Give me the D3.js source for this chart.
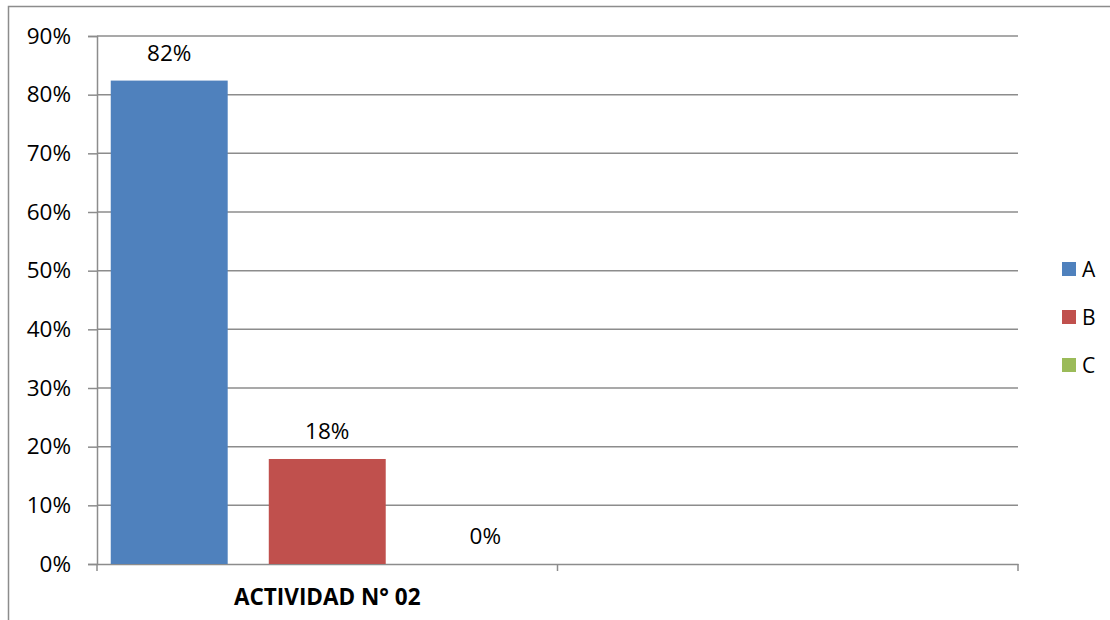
<!DOCTYPE html>
<html>
<head>
<meta charset="utf-8">
<script src="https://cdn.jsdelivr.net/npm/d3@7"></script>
<style>
  body { margin: 0; background: #fff; }
  svg { display: block; font-family: "Open Sans", "Noto Sans", sans-serif; }
</style>
</head>
<body>
<div id="chart"></div>
<script>
// Data.
const categories = ["ACTIVIDAD N° 02", ""];
const seriesNames = ["A", "B", "C"];
const seriesValues = [0.824, 0.179, 0];
const valueLabels = ["82%", "18%", "0%"];
const yTicks = [0, 0.1, 0.2, 0.3, 0.4, 0.5, 0.6, 0.7, 0.8, 0.9];
const colors = ["#4F81BD", "#C0504D", "#9BBB59"];

const width = 1110;
const height = 620;
const marginTop = 36;
const marginRight = 92;
const marginBottom = 56;
const marginLeft = 97;

const svg = d3.select("#chart")
  .append("svg")
    .attr("width", width)
    .attr("height", height)
    .attr("viewBox", [0, 0, width, height]);

// Outer chart frame (runs off the right and bottom edges).
svg.append("rect")
    .attr("x", 8.5)
    .attr("y", 6.5)
    .attr("width", width + 20)
    .attr("height", height + 20)
    .attr("fill", "none")
    .attr("stroke", "#8c8c8c")
    .attr("stroke-width", 1.5);

const x = d3.scaleBand()
    .domain(categories)
    .range([marginLeft, width - marginRight]);

const xInner = d3.scaleBand()
    .domain(seriesNames)
    .range([0, x.bandwidth()])
    .paddingInner(0.26)
    .paddingOuter(0.087);

const y = d3.scaleLinear()
    .domain([0, 0.9])
    .range([height - marginBottom, marginTop]);

// Gridlines.
svg.append("g")
  .selectAll("line")
  .data(yTicks.filter(d => d > 0))
  .join("line")
    .attr("x1", marginLeft)
    .attr("x2", width - marginRight)
    .attr("y1", d => y(d))
    .attr("y2", d => y(d))
    .attr("stroke", "#8c8c8c")
    .attr("stroke-width", 1.5);

// Y axis.
const yAxis = svg.append("g")
    .attr("transform", `translate(${marginLeft},0)`)
    .call(d3.axisLeft(y)
      .tickValues(yTicks)
      .tickFormat(d3.format(".0%"))
      .tickSize(9)
      .tickPadding(17));

yAxis.attr("font-family", null).attr("font-size", null);
yAxis.select(".domain").attr("stroke", "#8c8c8c").attr("stroke-width", 1.5);
yAxis.selectAll(".tick line").attr("stroke", "#8c8c8c").attr("stroke-width", 1.5);
yAxis.selectAll(".tick text")
    .attr("fill", "#000")
    .style("font-size", "22.5px");

// X axis.
const xAxis = svg.append("g")
    .attr("transform", `translate(0,${y(0)})`)
    .call(d3.axisBottom(x).tickSize(0).tickFormat(""));

xAxis.attr("font-family", null).attr("font-size", null);
xAxis.select(".domain").attr("stroke", "#8c8c8c").attr("stroke-width", 1.5);

const boundaries = [...categories.map(c => x(c)), x(categories[categories.length - 1]) + x.bandwidth()];
xAxis.selectAll(".bound")
  .data(boundaries)
  .join("line")
    .attr("class", "bound")
    .attr("x1", d => d)
    .attr("x2", d => d)
    .attr("y1", 0)
    .attr("y2", 7)
    .attr("stroke", "#8c8c8c")
    .attr("stroke-width", 1.5);

xAxis.selectAll(".cat")
  .data(categories)
  .join("text")
    .attr("class", "cat")
    .attr("x", d => x(d) + x.bandwidth() / 2)
    .attr("y", 41)
    .attr("text-anchor", "middle")
    .attr("fill", "#000")
    .style("font-size", "22.5px")
    .style("font-weight", "bold")
    .text(d => d);

// Bars for the first category.
const group = svg.append("g")
    .attr("transform", `translate(${x(categories[0])},0)`);

group.selectAll("rect")
  .data(seriesValues)
  .join("rect")
    .attr("x", (d, i) => xInner(seriesNames[i]))
    .attr("y", d => y(d))
    .attr("width", xInner.bandwidth())
    .attr("height", d => y(0) - y(d))
    .attr("fill", (d, i) => colors[i]);

group.selectAll("text")
  .data(seriesValues)
  .join("text")
    .attr("x", (d, i) => xInner(seriesNames[i]) + xInner.bandwidth() / 2)
    .attr("y", d => y(d) - 20)
    .attr("text-anchor", "middle")
    .attr("fill", "#000")
    .style("font-size", "22.5px")
    .text((d, i) => valueLabels[i]);

// Legend.
const legend = svg.append("g")
    .attr("transform", "translate(1062,262)");

const item = legend.selectAll("g")
  .data(seriesNames)
  .join("g")
    .attr("transform", (d, i) => `translate(0,${i * 48})`);

item.append("rect")
    .attr("width", 14)
    .attr("height", 14)
    .attr("fill", (d, i) => colors[i]);

item.append("text")
    .attr("x", 20)
    .attr("y", 15)
    .attr("fill", "#000")
    .style("font-size", "21px")
    .text(d => d);
</script>
</body>
</html>
